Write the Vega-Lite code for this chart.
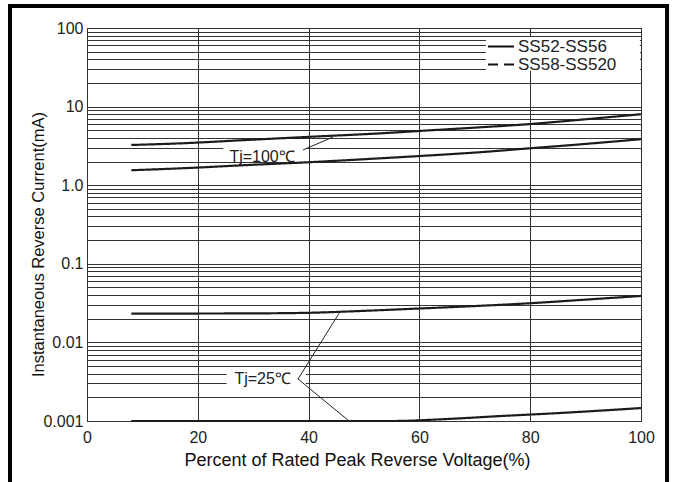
{
  "$schema": "https://vega.github.io/schema/vega-lite/v6.json",
  "width": 554,
  "height": 393,
  "autosize": "none",
  "padding": {"left": 87, "top": 28, "right": 32, "bottom": 61},
  "background": "white",
  "config": {
    "view": {"stroke": "#000", "strokeWidth": 1},
    "font": "Liberation Sans"
  },
  "datasets": {
    "curves": [
      {"pct": 8, "mA": 3.25, "curve": "a", "series": "SS52-SS56"},
      {"pct": 17, "mA": 3.41, "curve": "a", "series": "SS52-SS56"},
      {"pct": 30, "mA": 3.8, "curve": "a", "series": "SS52-SS56"},
      {"pct": 40, "mA": 4.12, "curve": "a", "series": "SS52-SS56"},
      {"pct": 53, "mA": 4.57, "curve": "a", "series": "SS52-SS56"},
      {"pct": 60, "mA": 4.9, "curve": "a", "series": "SS52-SS56"},
      {"pct": 70, "mA": 5.4, "curve": "a", "series": "SS52-SS56"},
      {"pct": 80, "mA": 6.0, "curve": "a", "series": "SS52-SS56"},
      {"pct": 90, "mA": 6.9, "curve": "a", "series": "SS52-SS56"},
      {"pct": 100, "mA": 8.0, "curve": "a", "series": "SS52-SS56"},
      {"pct": 8, "mA": 1.55, "curve": "b", "series": "SS52-SS56"},
      {"pct": 17, "mA": 1.64, "curve": "b", "series": "SS52-SS56"},
      {"pct": 30, "mA": 1.82, "curve": "b", "series": "SS52-SS56"},
      {"pct": 40, "mA": 1.96, "curve": "b", "series": "SS52-SS56"},
      {"pct": 53, "mA": 2.2, "curve": "b", "series": "SS52-SS56"},
      {"pct": 60, "mA": 2.35, "curve": "b", "series": "SS52-SS56"},
      {"pct": 70, "mA": 2.6, "curve": "b", "series": "SS52-SS56"},
      {"pct": 80, "mA": 2.95, "curve": "b", "series": "SS52-SS56"},
      {"pct": 90, "mA": 3.35, "curve": "b", "series": "SS52-SS56"},
      {"pct": 100, "mA": 3.85, "curve": "b", "series": "SS52-SS56"},
      {"pct": 8, "mA": 0.0232, "curve": "c", "series": "SS52-SS56"},
      {"pct": 20, "mA": 0.0233, "curve": "c", "series": "SS52-SS56"},
      {"pct": 30, "mA": 0.0234, "curve": "c", "series": "SS52-SS56"},
      {"pct": 40, "mA": 0.0238, "curve": "c", "series": "SS52-SS56"},
      {"pct": 50, "mA": 0.0252, "curve": "c", "series": "SS52-SS56"},
      {"pct": 60, "mA": 0.027, "curve": "c", "series": "SS52-SS56"},
      {"pct": 70, "mA": 0.029, "curve": "c", "series": "SS52-SS56"},
      {"pct": 80, "mA": 0.0315, "curve": "c", "series": "SS52-SS56"},
      {"pct": 90, "mA": 0.035, "curve": "c", "series": "SS52-SS56"},
      {"pct": 100, "mA": 0.039, "curve": "c", "series": "SS52-SS56"},
      {"pct": 8, "mA": 0.001, "curve": "d", "series": "SS52-SS56"},
      {"pct": 30, "mA": 0.001, "curve": "d", "series": "SS52-SS56"},
      {"pct": 55, "mA": 0.001, "curve": "d", "series": "SS52-SS56"},
      {"pct": 65, "mA": 0.00106, "curve": "d", "series": "SS52-SS56"},
      {"pct": 75, "mA": 0.00116, "curve": "d", "series": "SS52-SS56"},
      {"pct": 85, "mA": 0.00126, "curve": "d", "series": "SS52-SS56"},
      {"pct": 100, "mA": 0.00146, "curve": "d", "series": "SS52-SS56"}
    ],
    "boxes": [
      {"pct": 24.6, "pct2": 39.5, "mA": 2.1, "mA2": 3.3},
      {"pct": 25.2, "pct2": 39.5, "mA": 0.0025, "mA2": 0.0047},
      {"pct": 72, "pct2": 99.8, "mA": 28.8, "mA2": 77}
    ],
    "leaders": [
      {"pct": 39.0, "mA": 2.81, "pct2": 44.4, "mA2": 4.1},
      {"pct": 38.1, "mA": 0.00342, "pct2": 45.5, "mA2": 0.0235},
      {"pct": 38.1, "mA": 0.00342, "pct2": 47.3, "mA2": 0.001}
    ],
    "labels": [
      {"pct": 31.6, "mA": 2.29, "label": "Tj=100℃"},
      {"pct": 31.7, "mA": 0.00342, "label": "Tj=25℃"}
    ]
  },
  "layer": [
    {
      "data": {"values": [{}]},
      "mark": {"type": "rect", "fill": "transparent", "stroke": "#000", "strokeWidth": 4, "clip": false},
      "encoding": {
        "x": {"datum": -13.9, "type": "quantitative", "scale": {"domain": [0, 100], "nice": false}},
        "x2": {"datum": 104.7},
        "y": {"datum": 190, "type": "quantitative", "scale": {"type": "log", "domain": [0.001, 100], "nice": false}},
        "y2": {"datum": 0.0001}
      }
    },
    {
      "data": {"name": "boxes"},
      "mark": {"type": "rect", "fill": "white", "stroke": null},
      "encoding": {
        "x": {"field": "pct", "type": "quantitative", "scale": {"domain": [0, 100], "nice": false}},
        "x2": {"field": "pct2"},
        "y": {"field": "mA", "type": "quantitative", "scale": {"type": "log", "domain": [0.001, 100], "nice": false}},
        "y2": {"field": "mA2"}
      }
    },
    {
      "data": {"name": "leaders"},
      "mark": {"type": "rule", "color": "#222", "strokeWidth": 1},
      "encoding": {
        "x": {"field": "pct", "type": "quantitative", "scale": {"domain": [0, 100], "nice": false}},
        "x2": {"field": "pct2"},
        "y": {"field": "mA", "type": "quantitative", "scale": {"type": "log", "domain": [0.001, 100], "nice": false}},
        "y2": {"field": "mA2"}
      }
    },
    {
      "data": {"name": "curves"},
      "mark": {"type": "line", "interpolate": "monotone", "color": "#1c1c1c", "strokeWidth": 2.2},
      "encoding": {
        "x": {
          "field": "pct", "type": "quantitative",
          "scale": {"domain": [0, 100], "nice": false},
          "axis": {
            "title": "Percent of Rated Peak Reverse Voltage(%)",
            "values": [0, 20, 40, 60, 80, 100],
            "grid": true, "gridColor": "#333", "gridWidth": 1,
            "domain": false, "ticks": false, "tickSize": 0,
            "labelFont": "Liberation Sans", "labelFontSize": 16, "labelColor": "#222",
            "labelBaseline": "alphabetic", "labelPadding": 21, "labelFlush": false,
            "titleFont": "Liberation Sans", "titleFontSize": 18, "titleFontWeight": "normal", "titleColor": "#111",
            "titleX": 270, "titleY": 44, "titleBaseline": "alphabetic"
          }
        },
        "y": {
          "field": "mA", "type": "quantitative",
          "scale": {"type": "log", "domain": [0.001, 100], "nice": false},
          "axis": {
            "title": "Instantaneous Reverse Current(mA)",
            "values": [0.001, 0.002, 0.003, 0.004, 0.005, 0.006, 0.007, 0.008, 0.009,
                       0.01, 0.02, 0.03, 0.04, 0.05, 0.06, 0.07, 0.08, 0.09,
                       0.1, 0.2, 0.3, 0.4, 0.5, 0.6, 0.7, 0.8, 0.9,
                       1, 2, 3, 4, 5, 6, 7, 8, 9,
                       10, 20, 30, 40, 50, 60, 70, 80, 90, 100],
            "format": "~g",
            "labelExpr": "abs(log(datum.value)/LN10 - round(log(datum.value)/LN10)) < 0.000001 ? (datum.value == 1 ? '1.0' : datum.label) : ''",
            "labelOverlap": false,
            "grid": true, "gridColor": "#333", "gridWidth": 1,
            "domain": false, "ticks": false, "tickSize": 0,
            "labelFont": "Liberation Sans", "labelFontSize": 16, "labelColor": "#222",
            "labelPadding": 4, "labelBaseline": "middle",
            "titleFont": "Liberation Sans", "titleFontSize": 16.5, "titleFontWeight": "normal", "titleColor": "#111",
            "titleAngle": 270, "titleBaseline": "bottom", "titleX": -41, "titleY": 216
          }
        },
        "detail": {"field": "curve"},
        "strokeDash": {
          "field": "series", "type": "nominal",
          "scale": {"domain": ["SS52-SS56", "SS58-SS520"], "range": [[1, 0], [10, 6]]},
          "legend": {
            "title": null, "orient": "none", "legendX": 397, "legendY": 7,
            "symbolType": "stroke", "symbolSize": 676, "symbolStrokeWidth": 2,
            "symbolStrokeColor": "#111",
            "labelFont": "Liberation Sans", "labelFontSize": 17, "labelColor": "#222",
            "labelOffset": 3, "clipHeight": 17, "rowPadding": 0, "padding": 3
          }
        }
      }
    },
    {
      "data": {"name": "labels"},
      "mark": {"type": "text", "font": "Liberation Sans", "fontSize": 16, "color": "#222", "align": "center", "baseline": "middle"},
      "encoding": {
        "x": {"field": "pct", "type": "quantitative", "scale": {"domain": [0, 100], "nice": false}},
        "y": {"field": "mA", "type": "quantitative", "scale": {"type": "log", "domain": [0.001, 100], "nice": false}},
        "text": {"field": "label"}
      }
    }
  ]
}
